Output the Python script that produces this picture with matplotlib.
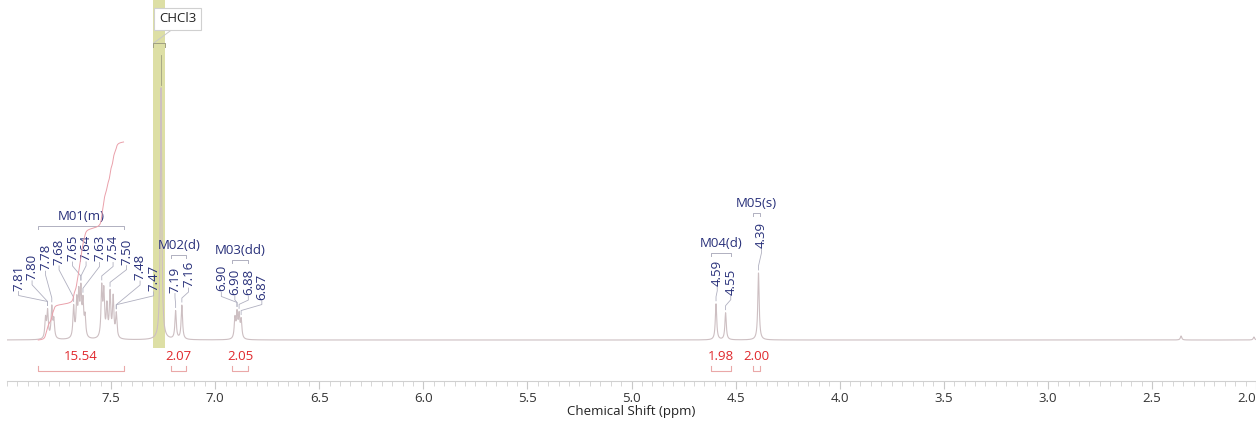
import matplotlib
matplotlib.use("Agg")
import matplotlib.pyplot as plt
import numpy as np

plt.rcParams['font.family'] = ['Open Sans', 'DejaVu Sans']

# ==============================
# DATA
# ==============================
# spectrum lines (ppm, intensity)
line_ppm = [7.815, 7.805, 7.785, 7.775,
            7.68, 7.665, 7.655, 7.645, 7.635, 7.625,
            7.545, 7.535, 7.52, 7.505, 7.49, 7.475,
            7.26,
            7.19, 7.16,
            6.905, 6.895, 6.885, 6.875,
            4.594, 4.548,
            4.39,
            2.36, 2.01]
line_int = [20, 27, 31, 18,
            31, 35, 40, 44, 33, 20,
            49, 44, 31, 44, 40, 24,
            252,
            28, 34,
            20, 24, 22, 18,
            36, 27,
            67,
            4, 3]

# multiplets
mult_names = ["M01(m)", "M02(d)", "M03(dd)", "M04(d)", "M05(s)"]
mult_start = [7.85, 7.21, 6.92, 4.62, 4.415]
mult_end = [7.44, 7.14, 6.84, 4.52, 4.385]
mult_integrals = ["15.54", "2.07", "2.05", "1.98", "2.00"]
mult_peaks = [
    [7.81, 7.80, 7.78, 7.68, 7.65, 7.64, 7.63, 7.54, 7.50, 7.48, 7.47],
    [7.19, 7.16],
    [6.90, 6.90, 6.88, 6.87],
    [4.59, 4.55],
    [4.39],
]

solvent_name = "CHCl3"
solvent_ppm = 7.26
solvent_range = (7.30, 7.24)

# ==============================
# SPECTRUM
# ==============================
width = 0.004
x = np.linspace(8.0, 2.0, 60001)
y = np.zeros_like(x)
for p, h in zip(line_ppm, line_int):
    y += h * width ** 2 / ((x - p) ** 2 + width ** 2)


def local_max(p, tol=0.006):
    m = np.abs(x - p) <= tol
    i = np.argmax(y[m])
    return x[m][i], y[m][i]


fig = plt.figure(figsize=(12.56, 4.21), dpi=100)
ax = fig.add_axes([7 / 1256, 40 / 421, 1249 / 1256, 381 / 421])
ax.set_xlim(8.0, 2.0)
ax.set_ylim(-41, 340)

# solvent band
ax.fill_between(solvent_range, -8, 340, color="#d8da96", alpha=0.85, lw=0, zorder=1)

ax.plot(x, y, color="#cdbfc2", lw=0.8, zorder=2)

label_color = "#28307a"
link_color = "#b0b0c0"
red = "#e0282c"
red_light = "#eaa8a8"
px = 6.0 / 1249  # ppm per pixel

# ==============================
# PEAK LABELS + MULTIPLETS
# ==============================
for name, start, end, integ, peaks in zip(mult_names, mult_start, mult_end,
                                          mult_integrals, mult_peaks):
    tops = [local_max(p) for p in peaks]
    in_range = (x <= start) & (x >= end)
    top = y[in_range].max()
    level = 1.3 * top + 5
    n = len(peaks)
    c = (n - 1) / 2
    center = np.mean(peaks) - 3 * px
    spacing = 13.5 * px
    for i, (p, (pp, h)) in enumerate(zip(peaks, tops)):
        lx = center + (c - i) * spacing
        # labels at the ends of a group sit lower (arched layout)
        frac = ((i - c) / c) ** 2 if c > 0 else 0
        low = max(h + 18, level - 30)
        lb = level - (level - low) * frac
        ax.text(lx, lb, f"{p:.2f}", rotation=90, ha="center", va="bottom",
                fontsize=9.5, color=label_color)
        ax.plot([lx, lx, pp, pp], [lb - 1, lb - 5, h + 7, h + 3],
                color=link_color, lw=0.6)

    # multiplet bracket
    by = level + 35
    ax.plot([start, start, end, end], [by - 3, by, by, by - 3], color=link_color, lw=0.7)
    ax.text((start + end) / 2, by + 3, name, ha="center", va="bottom",
            fontsize=9.5, color=label_color)

    # integration
    ax.text((start + end) / 2, -17, integ, ha="center", va="center", fontsize=9.5, color=red)
    ax.plot([start, start, end, end], [-26, -31, -31, -26], color=red_light, lw=0.8)

# integral curve for the first multiplet
mask = (x <= mult_start[0]) & (x >= mult_end[0])
cum = np.cumsum(y[mask])
cum = cum / cum[-1] * 198
ax.plot(x[mask], cum, color="#eaa0aa", lw=0.7, zorder=3)

# ==============================
# SOLVENT LABEL
# ==============================
sp, sh = local_max(solvent_ppm)
ax.text(7.18, 321, solvent_name, ha="center", va="center", fontsize=9.5, color="#222222",
        bbox=dict(boxstyle="square,pad=0.35", fc="white", ec="#d0d0d0", lw=0.8))
ax.plot([7.21, 7.295], [310, 297], color="#c8c8c8", lw=0.7)
ax.plot([7.30, 7.30, 7.24, 7.24], [293, 297, 297, 293], color="#a0a080", lw=0.7)
ax.plot([sp, sp], [285, sh + 3], color="#a0a080", lw=0.6)

# ==============================
# AXIS
# ==============================
for s in ["top", "left", "right"]:
    ax.spines[s].set_visible(False)
ax.spines["bottom"].set_color("#d0d0d0")
ax.set_yticks([])
ax.set_xticks(np.arange(7.5, 1.99, -0.5))
ax.set_xticks(np.arange(8.0, 1.99, -0.05), minor=True)
ax.tick_params(axis="x", which="major", length=6, color="#c8c8c8", labelsize=9.5,
               labelcolor="#333333", pad=2)
ax.tick_params(axis="x", which="minor", length=3.5, color="#d0d0d0")
ax.set_xticklabels([f"{t:.1f}" for t in ax.get_xticks()])
ax.get_xticklabels()[-1].set_horizontalalignment("right")
ax.set_xlabel("Chemical Shift (ppm)", fontsize=9.5, color="#222222", labelpad=0)

fig.savefig("out.png", dpi=100)
